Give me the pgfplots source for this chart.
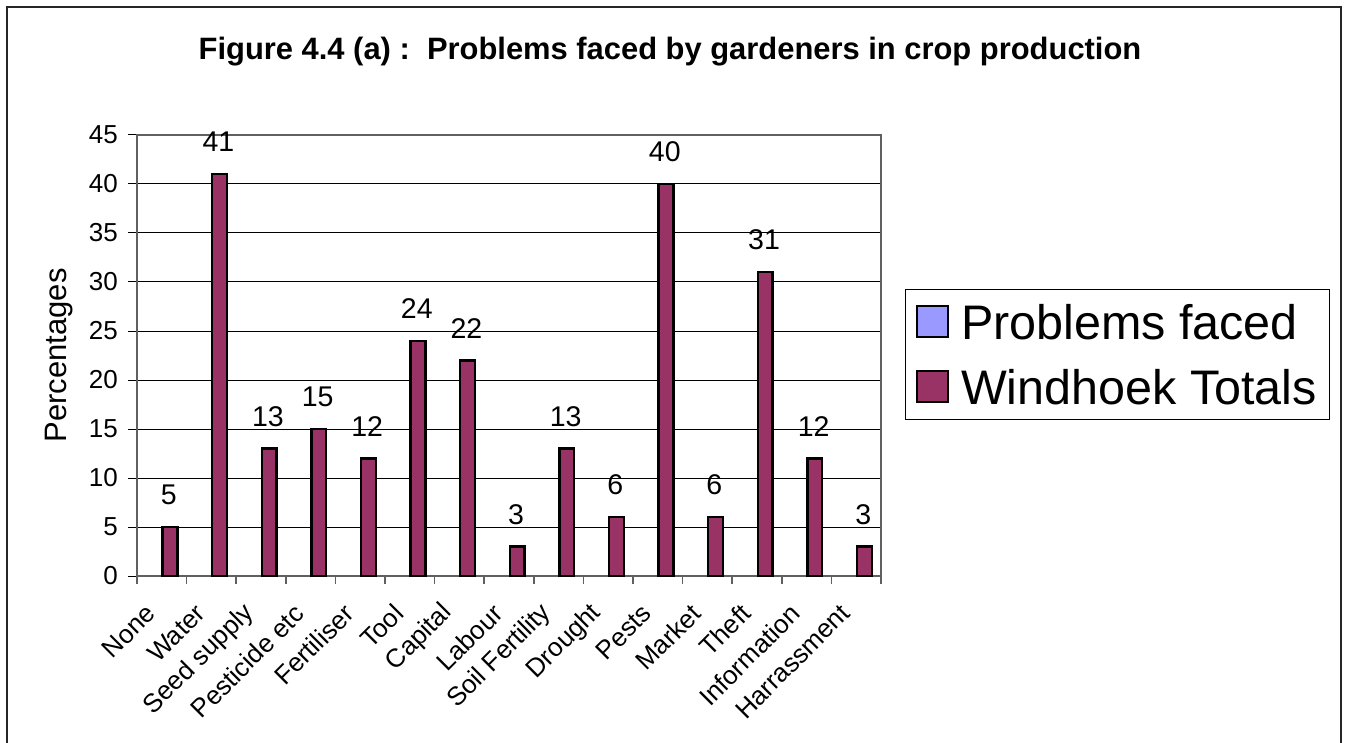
\documentclass[border=0pt]{standalone}
\usepackage{pgfplots}
\pgfplotsset{compat=1.18}
\usepackage{fontspec}
\setmainfont{Liberation Sans}
\definecolor{windfill}{HTML}{993366}
\definecolor{probfill}{HTML}{9999FF}
\definecolor{axgray}{HTML}{606060}
\begin{document}
\begin{tikzpicture}[x=1pt,y=1pt]
\useasboundingbox (0,0) rectangle (1346,742);
\fill[white] (0,0) rectangle (1346,742);
\draw[line width=2pt, black!85] (7,-10) rectangle (1341,735);
\node[anchor=base, font=\fontsize{30.9}{36}\selectfont\bfseries] at (670,682) {Figure 4.4 (a) :\ \ Problems faced by gardeners in crop production};
\begin{axis}[
  at={(137pt,166pt)}, anchor=south west,
  scale only axis, width=744pt, height=441pt,
  /pgf/number format/assume math mode=true,
  xmin=-0.5, xmax=14.5, ymin=0, ymax=45,
  enlargelimits=false,
  ytick={0,5,...,45},
  xtick={0,...,14},
  xticklabels={None,Water,Seed supply,Pesticide etc,Fertiliser,Tool,Capital,Labour,Soil Fertility,Drought,Pests,Market,Theft,Information,Harrassment},
  minor xtick={-0.5,0.5,...,14.5},
  tick align=outside,
  major tick length=9pt,
  minor tick length=8pt,
  major x tick style={draw=none},
  minor x tick style={draw=axgray, line width=1.5pt},
  major y tick style={draw=black, line width=1pt},
  xtick pos=bottom, ytick pos=left,
  ymajorgrids=true,
  major grid style={black, line width=1pt},
  axis line style={axgray, line width=2pt},
  yticklabel style={font=\fontsize{26}{30}\selectfont, inner sep=0pt, xshift=-10pt},
  xticklabel style={font=\fontsize{26}{30}\selectfont, inner sep=0pt, xshift=-11pt, yshift=-24pt, rotate=45, anchor=east},
  ylabel={Percentages},
  ylabel style={font=\fontsize{31}{36}\selectfont, at={(axis description cs:-0.0954,0.5)}, anchor=base, rotate=0},
  legend style={at={(axis description cs:1.0323,0.6508)}, anchor=north west,
    draw=black, line width=1pt, font=\fontsize{48.5}{56}\selectfont,
    inner xsep=10pt, inner ysep=12pt,
    nodes={inner sep=3pt, text height=35pt, text depth=0pt},
    row sep=24pt,
    /tikz/every odd column/.append style={column sep=9pt}},
  legend cell align=left,
]
\addlegendimage{legend image code/.code={\draw[line width=2.5pt, fill=probfill, draw=black] (0pt,-15pt) rectangle (31pt,16pt);}}
\addlegendentry{Problems faced}
\addlegendimage{legend image code/.code={\draw[line width=2.5pt, fill=windfill, draw=black] (0pt,-15pt) rectangle (31pt,16pt);}}
\addlegendentry{Windhoek Totals}
\addplot[ybar, forget plot, bar width=14.8pt, bar shift=8.2pt, fill=windfill, draw=black, line width=2.5pt,
  nodes near coords,
  every node near coord/.append style={font=\fontsize{28.5}{32}\selectfont, inner sep=0pt, anchor=south, xshift=7pt, yshift=21pt, text=black}]
  coordinates {
  (0,5) (1,41) (2,13) (3,15) (4,12) (5,24) (6,22) (7,3) (8,13) (9,6) (10,40) (11,6) (12,31) (13,12) (14,3)
  };
\end{axis}
\end{tikzpicture}
\end{document}
